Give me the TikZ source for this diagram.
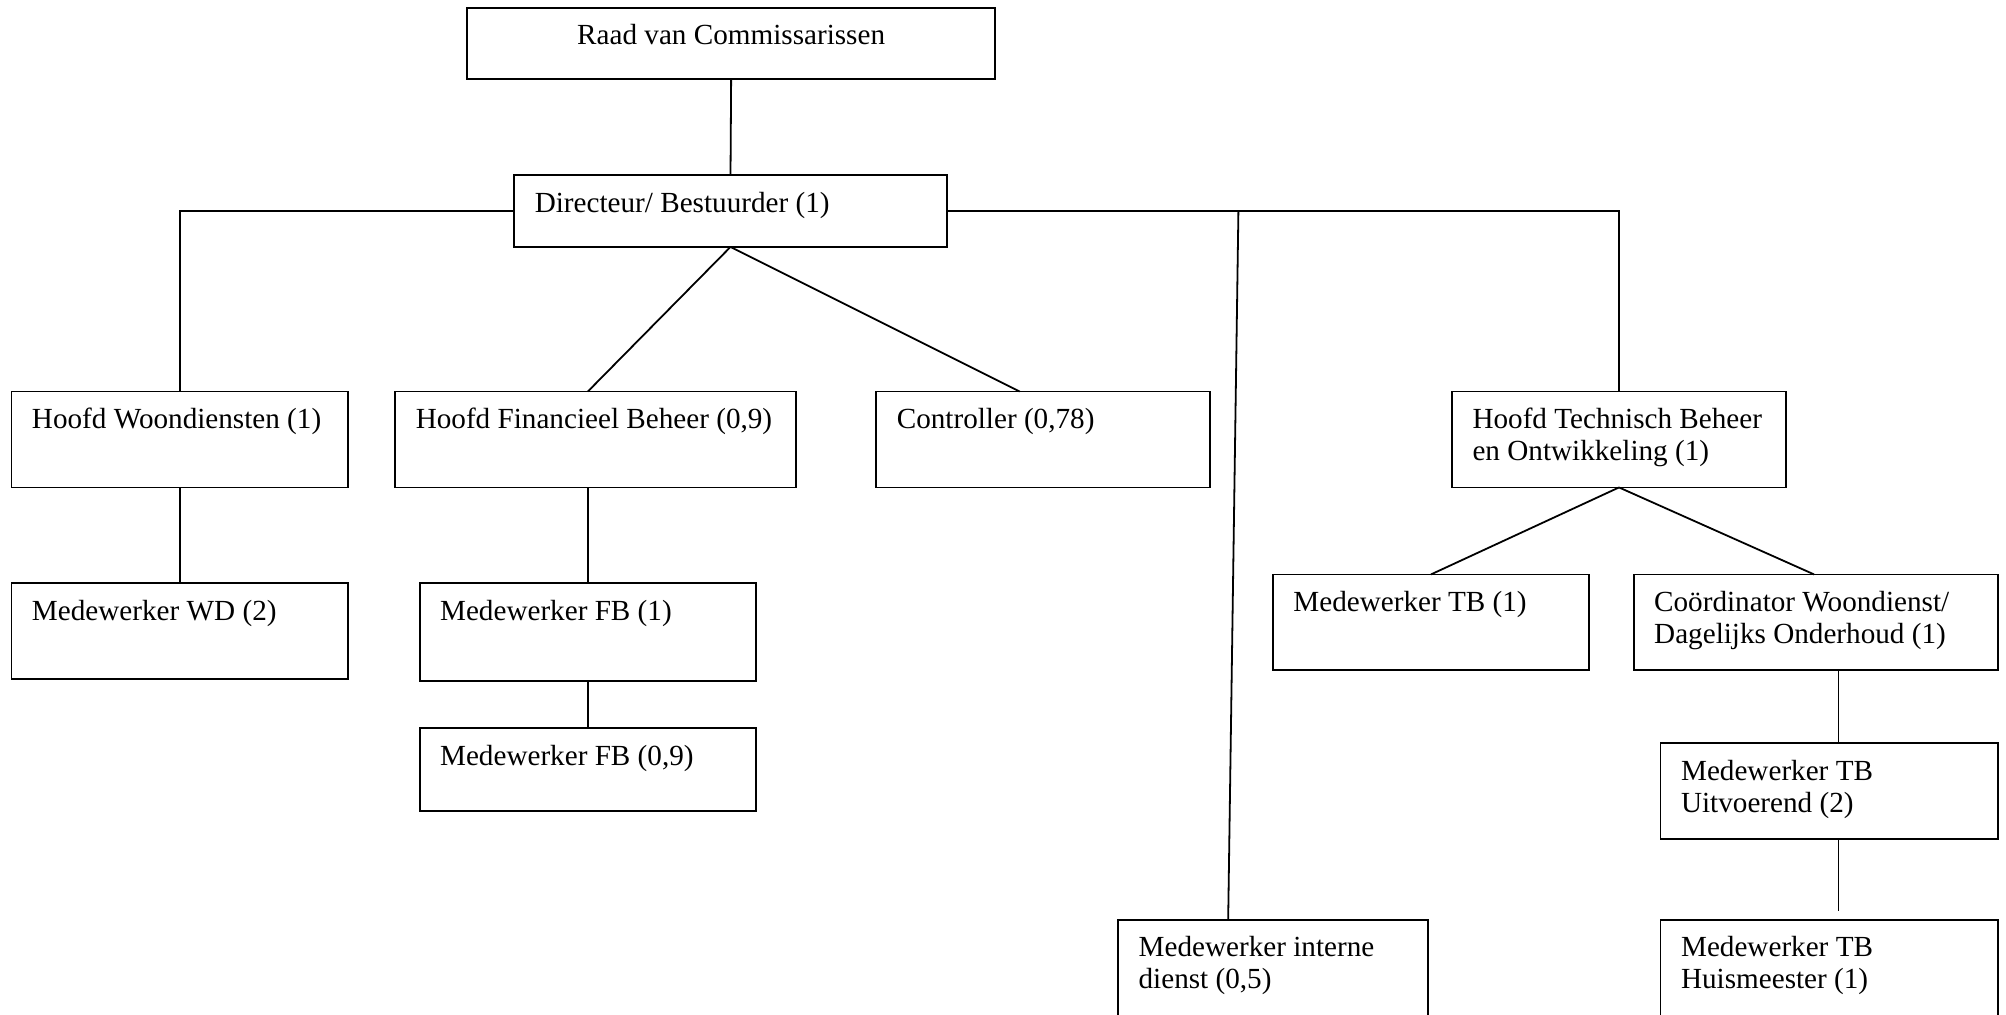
\documentclass[tikz,border=0pt]{standalone}
\usepackage{fontspec}
\setmainfont{Liberation Serif}
\usetikzlibrary{calc}
\tikzset{
  orgbox/.style={draw, line width=0.7pt, inner sep=0pt, outer sep=0pt, fill=none},
  lbl/.style={inner sep=0pt, outer sep=0pt, font=\fontsize{11.4}{12.4}\selectfont},
  conn/.style={line width=0.7pt}
}
\newcommand\orgnode[6]{%
  \node[orgbox, minimum width={(#4-#2)*0.5pt}, minimum height={(#5-#3)*0.5pt}, anchor=north west] (#1) at (#2,#3) {};
  \node[lbl, anchor=base west] (#1-t) at ($(#1.north west)+(16,29)$) {#6};
}
\newcommand\twolines[2]{\vtop{\hbox{#1}\hbox{#2}}}
\begin{document}
\begin{tikzpicture}[x=0.5pt,y=-0.5pt]
\useasboundingbox (0,0) rectangle (1568,793);
\fill[white] (0,0) rectangle (1568,793);
% boxes
\node[orgbox, minimum width={(778-365)*0.5pt}, minimum height={(62-6)*0.5pt}, anchor=north west] (raad) at (365,6) {};
\node[lbl, anchor=base] (raad-t) at ($(raad.north)+(0,29)$) {Raad van Commissarissen};
\orgnode{dir}{402}{137}{740}{193}{Directeur/ Bestuurder (1)}
\orgnode{hw}{9}{306}{272}{381}{Hoofd Woondiensten (1)}
\orgnode{hfb}{309}{306}{622}{381}{Hoofd Financieel Beheer (0,9)}
\orgnode{ctl}{685}{306}{946}{381}{Controller (0,78)}
\orgnode{htb}{1135}{306}{1396}{381}{\twolines{Hoofd Technisch Beheer}{en Ontwikkeling (1)}}
\orgnode{mwd}{9}{456}{272}{531}{Medewerker WD (2)}
\orgnode{mfb1}{328}{456}{591}{532}{Medewerker FB (1)}
\orgnode{mfb2}{328}{569}{591}{634}{Medewerker FB (0,9)}
\orgnode{mtb1}{995}{449}{1242}{524}{Medewerker TB (1)}
\orgnode{coord}{1277}{449}{1562}{524}{\twolines{Coördinator Woondienst/}{Dagelijks Onderhoud (1)}}
\orgnode{mtbu}{1298}{581}{1562}{656}{\twolines{Medewerker TB}{Uitvoerend (2)}}
\orgnode{huis}{1298}{719}{1562}{830}{\twolines{Medewerker TB}{Huismeester (1)}}
\orgnode{mid}{874}{719}{1116}{830}{\twolines{Medewerker interne}{dienst (0,5)}}
% connectors
\draw[conn] (raad.south) -- (dir.north);
\draw[conn] (dir.west) -| (hw.north);
\draw[conn] (dir.east) -| (htb.north);
\coordinate (j) at (968,165);
\coordinate (midin) at ($(mid.north west)+(86,0)$);
\draw[conn] (j) -- (midin);
\draw[conn] (dir.south) -- (mfb1.north |- hfb.north);
\draw[conn] (dir.south) -- ($(ctl.north west)+(112,0)$);
\draw[conn] (mfb1.north |- hfb.south) -- (mfb1.north);
\draw[conn] (hw.south) -- (mwd.north);
\draw[conn] (mfb1.south) -- (mfb2.north);
\draw[conn] (htb.south) -- (mtb1.north);
\draw[conn] (htb.south) -- ($(coord.north west)+(141,0)$);
\coordinate (cx) at ($(coord.south west)+(160,0)$);
\draw[conn] (cx) -- (cx |- mtbu.north);
\coordinate (huisgap) at ($(cx |- huis.north)+(0,-7)$);
\draw[conn] (cx |- mtbu.south) -- (huisgap);
\end{tikzpicture}
\end{document}
